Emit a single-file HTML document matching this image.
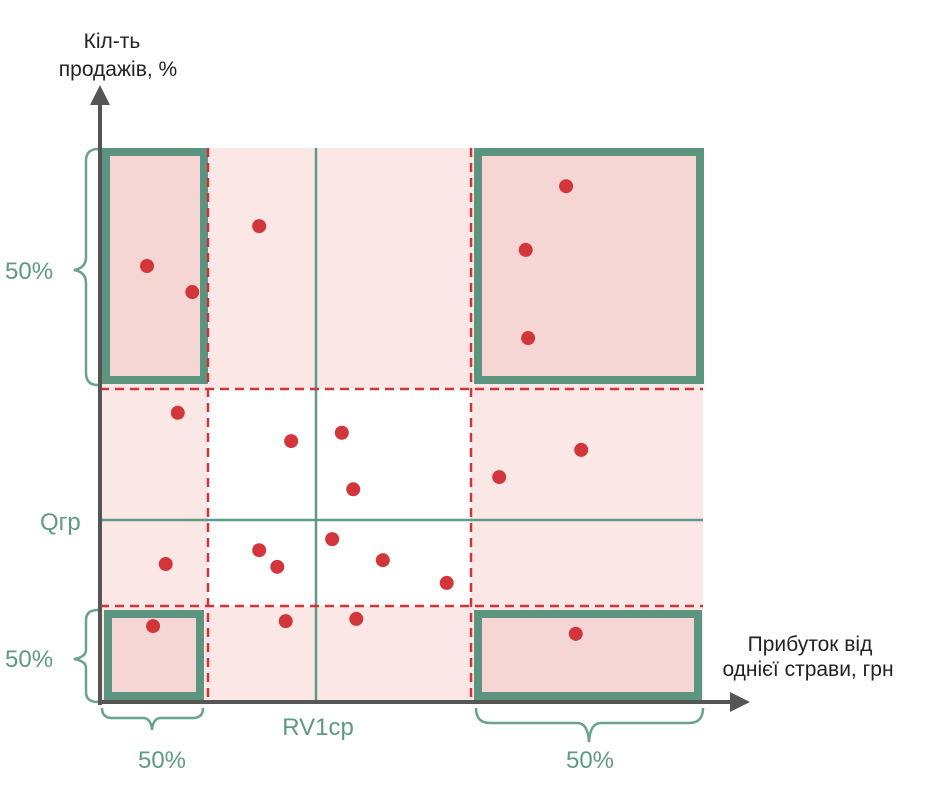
<!DOCTYPE html>
<html><head><meta charset="utf-8"><style>
body{margin:0;background:#fff;}
svg{display:block;font-family:"Liberation Sans",sans-serif;}
</style></head><body>
<svg id="chart" width="930" height="807" viewBox="0 0 930 807">
<g id="bg">
<rect x="100" y="148" width="603" height="554" fill="#fae7e6"/>
<rect x="208" y="389" width="263" height="217" fill="#ffffff"/>
</g>
<g fill="#f6d6d4" stroke="#5b947f" stroke-width="8">
<rect x="106" y="152" width="98" height="228"/>
<rect x="478" y="152" width="222" height="228"/>
<rect x="108" y="614" width="92" height="82"/>
<rect x="478" y="614" width="220" height="82"/>
</g>
<g stroke="#5e9a85" stroke-width="2.5">
<line x1="316" y1="148" x2="316" y2="702"/>
<line x1="100" y1="520" x2="703" y2="520"/>
</g>
<g stroke="#d0353a" stroke-width="2.5" stroke-dasharray="9,6">
<line x1="208" y1="148" x2="208" y2="702"/>
<line x1="471" y1="148" x2="471" y2="702"/>
<line x1="100" y1="389" x2="703" y2="389"/>
<line x1="100" y1="606" x2="703" y2="606"/>
</g>
<g fill="#555" stroke="#555">
<line x1="100" y1="102" x2="100" y2="705" stroke-width="4"/>
<polygon points="90,105 110,105 100,85" stroke="none"/>
<line x1="98" y1="702" x2="732" y2="702" stroke-width="4"/>
<polygon points="730,692 730,712 750,702" stroke="none"/>
</g>
<g fill="none" stroke="#6aa28e" stroke-width="2.5">
<path d="M98,149 Q86,149 86,161 L86,257 Q86,268 74,270 Q86,272 86,283 L86,373 Q86,385 98,385"/>
<path d="M98,610 Q86,610 86,620 L86,650 Q86,657 74,659 Q86,661 86,668 L86,692 Q86,702 98,702"/>
<path d="M102,708 Q102,718 112,718 L143,718 Q151,718 152,730 Q153,718 161,718 L193,718 Q203,718 203,708"/>
<path d="M476,708 Q476,723 490,723 L577,723 Q588,723 589,742 Q590,723 601,723 L689,723 Q703,723 703,708"/>
</g>
<g fill="#5e9a85" font-size="24">
<text x="5" y="279">50%</text>
<text x="5" y="667">50%</text>
<text x="162" y="768" text-anchor="middle">50%</text>
<text x="590" y="768" text-anchor="middle">50%</text>
<text x="40" y="530">Qгр</text>
<text x="318" y="735" text-anchor="middle">RV1ср</text>
</g>
<g fill="#222" font-size="21">
<text text-anchor="middle"><tspan x="112" y="48">Кіл-ть</tspan><tspan x="118" y="76">продажів, %</tspan></text>
<text text-anchor="middle"><tspan x="810" y="651">Прибуток від</tspan><tspan x="808" y="676">однієї страви, грн</tspan></text>
</g>
<g id="points"></g>
</svg>
<script>
const profitPct=[7.8,15.3,26.4,77.3,70.6,71.0,12.9,31.7,40.1,42.0,66.2,79.8,10.9,26.4,29.4,38.5,46.9,57.5,8.8,30.8,42.5,78.9];
const salesPct=[78.7,74.0,85.9,93.1,81.6,65.7,52.2,47.1,48.6,38.4,40.6,45.5,24.9,27.4,24.4,29.4,25.6,21.5,13.7,14.6,15.0,12.3];
function xScale(v){return 100+v/100*603;}
function yScale(v){return 702-v/100*554;}
const g=document.getElementById('points');
for(let i=0;i<profitPct.length;i++){
  const c=document.createElementNS('http://www.w3.org/2000/svg','circle');
  c.setAttribute('cx',xScale(profitPct[i]));
  c.setAttribute('cy',yScale(salesPct[i]));
  c.setAttribute('r',7);
  c.setAttribute('fill','#d3363a');
  
  
  g.appendChild(c);
}
</script>
</body></html>
